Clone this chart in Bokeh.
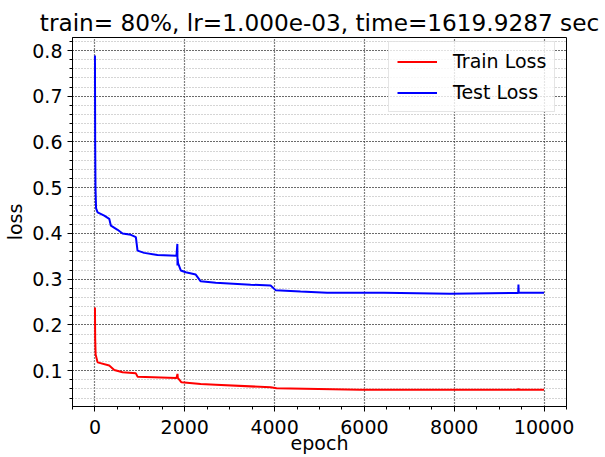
from bokeh.plotting import figure
from bokeh.models import Range1d, FixedTicker, Legend, LegendItem
from bokeh.embed import file_html
from bokeh.resources import INLINE

# Loss curves, sampled at the epochs where the curves change shape
test_epochs = [0, 5, 12, 25, 59, 207, 318, 355, 504, 615, 800, 911, 948, 1096,
               1393, 1815, 1835, 1838, 1842, 1850, 1911, 2022, 2244, 2355, 2689,
               3467, 3911, 4022, 4578, 5170, 6430, 7911, 9425, 9430, 9436, 10000]
test_loss = [0.789, 0.60, 0.50, 0.455, 0.446, 0.439, 0.432, 0.417, 0.408, 0.400,
             0.397, 0.392, 0.3625, 0.3575, 0.353, 0.351, 0.377, 0.330, 0.345,
             0.335, 0.319, 0.315, 0.310, 0.2953, 0.292, 0.288, 0.286, 0.276,
             0.273, 0.270, 0.270, 0.268, 0.2698, 0.288, 0.2705, 0.270]

train_epochs = [0, 5, 15, 59, 318, 430, 615, 911, 948, 1815, 1838, 1845, 1926,
                2355, 2689, 3911, 4044, 5911, 9425, 9430, 9436, 10000]
train_loss = [0.238, 0.17, 0.135, 0.118, 0.111, 0.1015, 0.0964, 0.094, 0.0868,
              0.084, 0.0927, 0.084, 0.0743, 0.0708, 0.0693, 0.0634, 0.0612,
              0.0584, 0.0584, 0.0612, 0.0584, 0.0584]

x_ticks = [0, 2000, 4000, 6000, 8000, 10000]
y_ticks = [0.1, 0.2, 0.3, 0.4, 0.5, 0.6, 0.7, 0.8]

title = "train= 80%, lr=1.000e-03, time=1619.9287 sec"
FONT = "DejaVu Sans"

p = figure(width=605, height=457, output_backend="svg", toolbar_location=None,
           x_range=Range1d(-500, 10500), y_range=Range1d(0.0215, 0.8285),
           min_border_left=72, min_border_right=39, min_border_top=37,
           min_border_bottom=51)
p.background_fill_color = "white"
p.border_fill_color = "white"
p.outline_line_color = "black"
p.outline_line_width = 1

p.title.text = title
p.title.align = "center"
p.title.text_font = FONT
p.title.text_font_size = "23.2px"
p.title.text_font_style = "normal"
p.title.text_color = "black"
p.title.standoff = 4

# Ticks
p.xaxis.ticker = FixedTicker(ticks=x_ticks,
                             minor_ticks=[v for v in range(-500, 10501, 500)])
p.yaxis.ticker = FixedTicker(ticks=y_ticks,
                             minor_ticks=[round(0.02 * k, 2) for k in range(1, 42)])
p.yaxis.formatter.use_scientific = False

for ax in (p.xaxis[0], p.yaxis[0]):
    ax.major_label_text_font = FONT
    ax.major_label_text_font_size = "19px"
    ax.major_label_text_color = "black"
    ax.axis_label_text_font = FONT
    ax.axis_label_text_font_size = "19px"
    ax.axis_label_text_font_style = "normal"
    ax.axis_label_text_color = "black"
    ax.axis_line_color = "black"
    ax.major_tick_line_color = "black"
    ax.minor_tick_line_color = "black"
    ax.major_tick_in = 0
    ax.major_tick_out = 5
    ax.minor_tick_in = 0
    ax.minor_tick_out = 3
    ax.major_label_standoff = 5

p.xaxis.axis_label = "epoch"
p.xaxis.major_label_standoff = 8
p.xaxis.axis_label_standoff = -5
p.yaxis.axis_label = "loss"
p.yaxis.axis_label_standoff = 3

# Grid: dotted black majors, light grey dotted minors on y
p.xgrid.grid_line_color = "black"
p.xgrid.grid_line_dash = "1 2"
p.xgrid.grid_line_width = 1.2
p.ygrid.grid_line_color = "black"
p.ygrid.grid_line_dash = "1 2"
p.ygrid.grid_line_width = 1.2
p.ygrid.minor_grid_line_color = "#aaaaaa"
p.ygrid.minor_grid_line_dash = "1 2"
p.ygrid.minor_grid_line_width = 1

r_train = p.line(train_epochs, train_loss, line_color="#ff0000", line_width=2)
r_test = p.line(test_epochs, test_loss, line_color="#0000ff", line_width=2)

# Legend anchored by its bottom-left corner, in pixels from the frame's bottom-left
legend = Legend(items=[LegendItem(label="Train Loss", renderers=[r_train]),
                       LegendItem(label="Test Loss", renderers=[r_test])],
                location=(316, 294))
legend.padding = 8
legend.spacing = 9
legend.glyph_width = 40
legend.glyph_height = 21
legend.label_height = 21
legend.label_standoff = 16
legend.label_text_font = FONT
legend.label_text_font_size = "19px"
legend.label_text_color = "black"
legend.border_line_color = "#cccccc"
legend.border_line_width = 1
legend.background_fill_color = "white"
legend.background_fill_alpha = 0.8
p.add_layout(legend)

open("out.html", "w").write(file_html(p, INLINE))
